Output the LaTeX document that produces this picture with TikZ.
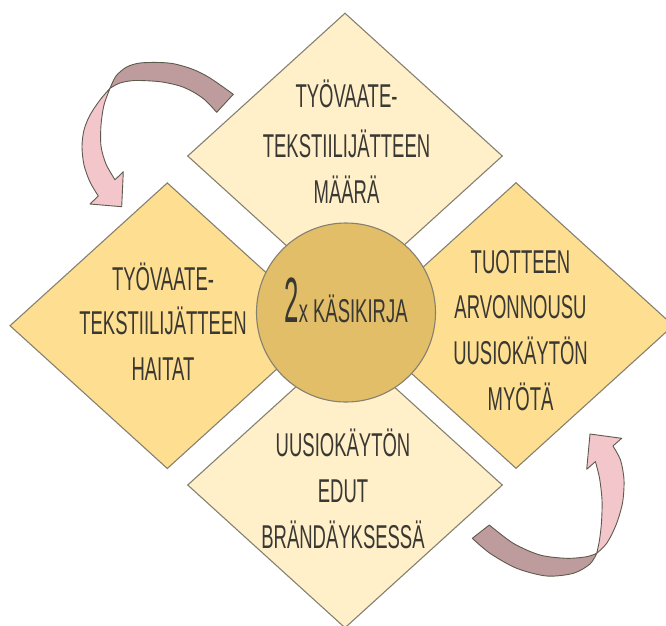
\documentclass[tikz,border=0pt]{standalone}
\usepackage{fontspec}
\newfontfamily\hand{Liberation Sans}[FakeStretch=0.56]
\usetikzlibrary{shapes.geometric}
\definecolor{cream}{HTML}{FFF0C9}
\definecolor{gold}{HTML}{FEDF91}
\definecolor{core}{HTML}{E2BE68}
\definecolor{mauve}{HTML}{BE9C9D}
\definecolor{blush}{HTML}{F2C6CA}
\definecolor{edge}{HTML}{858070}
\definecolor{ink}{HTML}{3A3833}
\begin{document}
\begin{tikzpicture}[x=1pt,y=-1pt,
  rhomb/.style={diamond, draw=edge, line width=1.1pt, minimum width=315pt, minimum height=286pt, inner sep=0pt},
  hub/.style={circle, draw=edge, line width=1.1pt, fill=core, minimum size=179pt, inner sep=0pt},
  lbl/.style={anchor=base, inner sep=0pt, text=ink, font=\hand\fontsize{33}{33}\selectfont},
  band/.style={draw=edge!70!black, line width=0.9pt, line join=round}]
\useasboundingbox (0,0) rectangle (666,625);
\clip (0,0) rectangle (666,625);

% diamonds
\node[rhomb, fill=cream] (top) at (345,156) {};
\node[rhomb, fill=gold] (left) at (167.3,325.7) {};
\node[rhomb, fill=gold] (right) at (516,325.5) {};
\node[rhomb, fill=cream] (bottom) at (345,485) {};
\node[hub] (hub) at (346,312.5) {};

% texts
\node[lbl] (t1) at (346.5,107.6) {TYÖVAATE-};
\node[lbl] (t2) at (346.5,157.4) {TEKSTIILIJÄTTEEN};
\node[lbl] (t3) at (346.5,203.3) {MÄÄRÄ};

\node[lbl] (l1) at (163,290.9) {TYÖVAATE-};
\node[lbl] (l2) at (163,334.8) {TEKSTIILIJÄTTEEN};
\node[lbl] (l3) at (163,380.6) {HAITAT};

\node[lbl] (r1) at (520.5,273) {TUOTTEEN};
\node[lbl] (r2) at (520.5,318.8) {ARVONNOUSU};
\node[lbl] (r3) at (520.5,364.7) {UUSIOKÄYTÖN};
\node[lbl] (r4) at (520.5,410.5) {MYÖTÄ};

\node[lbl] (b1) at (343,456.4) {UUSIOKÄYTÖN};
\node[lbl] (b2) at (343,502.2) {EDUT};
\node[lbl] (b3) at (343,548) {BRÄNDÄYKSESSÄ};

\node[lbl] (hubtext) at (346,322) {\scalebox{0.72}[1]{\fontsize{64}{64}\selectfont 2}x KÄSIKIRJA};

% top-left curved arrow
\filldraw[band, fill=mauve]
  plot[smooth] coordinates {(233.3,94.3) (210,78) (193.3,69.5) (175,64) (160,62.5) (140,63) (126.7,67) (116,76) (110,88.3)}
  -- plot[smooth] coordinates {(110,88.3) (120,83) (135,80.5) (160,81.7) (180,86) (193.3,92) (205,100) (216.7,112.3)}
  -- cycle;
\filldraw[band, fill=blush]
  plot[smooth] coordinates {(110,88.3) (100,100) (90,115) (84,130) (82,146.7) (84,165) (90,182) (98.3,196)}
  -- (90,204) -- (121.7,206.7) -- (123.3,171.7) --
  plot[smooth] coordinates {(115,179.8) (106,164) (101,146) (101,125) (104,105) (110,88.3)}
  -- cycle;

% bottom-right curved arrow
\filldraw[band, fill=mauve]
  plot[smooth] coordinates {(472.3,538.3) (490,553.3) (516.7,568.3) (546.7,576) (573.3,573.3) (590,564) (596.7,553.3)}
  -- plot[smooth] coordinates {(596.7,553.3) (586.7,556.7) (566.7,558.3) (540,555) (513.3,543.3) (489.3,525)}
  -- cycle;
\filldraw[band, fill=blush]
  plot[smooth] coordinates {(596.7,553.3) (606.7,543.3) (616,525) (622.5,503) (624,480) (620.5,460) (612.9,446)}
  -- (621.7,438.3) -- (590,434) -- (586.7,469.3) --
  plot[smooth] coordinates {(595.4,461.6) (599.5,478) (602,500) (601.5,522) (599.5,540) (596.7,553.3)}
  -- cycle;
\end{tikzpicture}
\end{document}
